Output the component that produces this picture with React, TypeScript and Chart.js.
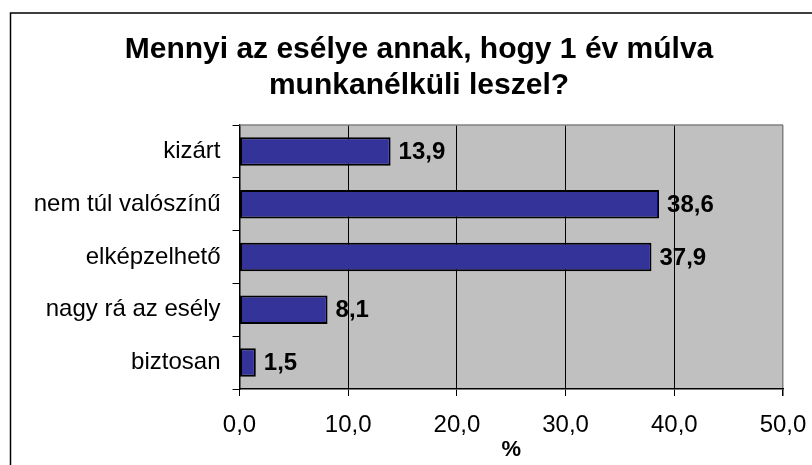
import React, { useEffect, useRef } from "react";
import { Chart, registerables } from "chart.js";

Chart.register(...registerables);

const titleLines = ["Mennyi az esélye annak, hogy 1 év múlva", "munkanélküli leszel?"];
const categories = ["kizárt", "nem túl valószínű", "elképzelhető", "nagy rá az esély", "biztosan"];
const values = [13.9, 38.6, 37.9, 8.1, 1.5];
const xTickLabels = ["0,0", "10,0", "20,0", "30,0", "40,0", "50,0"];
const xAxisTitle = "%";

const FONT = "'Liberation Sans', Arial, Helvetica, sans-serif";

const fmt = (v: number) => v.toFixed(1).replace(".", ",");

const decorPlugin = {
  id: "decor",
  afterLayout(chart: any) {
    const tb = chart.titleBlock;
    if (tb) {
      tb.left = 26;
      tb.right = 812;
    }
  },
  beforeDraw(chart: any) {
    const { ctx, chartArea: a } = chart;
    ctx.save();
    ctx.fillStyle = "#C0C0C0";
    ctx.fillRect(a.left, a.top, a.right - a.left, a.bottom - a.top);
    ctx.restore();
  },
  afterDraw(chart: any) {
    const { ctx, chartArea: a } = chart;
    ctx.save();
    ctx.strokeStyle = "#808080";
    ctx.lineWidth = 1.5;
    ctx.beginPath();
    ctx.moveTo(a.left, a.top);
    ctx.lineTo(a.right, a.top);
    ctx.stroke();
    ctx.strokeStyle = "#000";
    ctx.lineWidth = 1.5;
    ctx.beginPath();
    ctx.moveTo(10.5, chart.height + 5);
    ctx.lineTo(10.5, 13);
    ctx.lineTo(chart.width + 5, 13);
    ctx.stroke();
    ctx.restore();
  },
};

const labelPlugin = {
  id: "valueLabels",
  afterDatasetsDraw(chart: any) {
    const { ctx } = chart;
    const meta = chart.getDatasetMeta(0);
    ctx.save();
    ctx.font = `bold 24px ${FONT}`;
    ctx.fillStyle = "#000";
    ctx.textAlign = "left";
    ctx.textBaseline = "middle";
    meta.data.forEach((el: any, i: number) => {
      ctx.fillText(fmt(values[i]), el.x + 8, el.y + 1);
    });
    ctx.restore();
  },
};

export default function App() {
  const ref = useRef<HTMLCanvasElement>(null);
  useEffect(() => {
    if (!ref.current) return;
    const chart = new Chart(ref.current, {
      type: "bar",
      data: {
        labels: categories,
        datasets: [
          {
            data: values,
            backgroundColor: "#333399",
            borderColor: "#000",
            borderWidth: 2,
            borderSkipped: false,
            categoryPercentage: 1,
            barPercentage: 0.54,
          },
        ],
      },
      options: {
        animation: false,
        responsive: false,
        indexAxis: "y",
        layout: { padding: { left: 10, right: 29, top: 0, bottom: 0 } },
        plugins: {
          legend: { display: false },
          tooltip: { enabled: false },
          title: {
            display: true,
            text: titleLines,
            color: "#000",
            font: { family: FONT, size: 30, weight: "bold", lineHeight: 1.2 },
            padding: { top: 32, bottom: 21 },
          },
        },
        scales: {
          x: {
            min: 0,
            max: 50,
            ticks: {
              stepSize: 10,
              autoSkip: false,
              maxRotation: 0,
              color: "#000",
              padding: 15,
              font: { family: FONT, size: 24 },
              callback: (_v: any, i: number) => xTickLabels[i],
            },
            grid: {
              color: (c: any) => (c.tick && c.tick.value === 50 ? "#808080" : "#000"),
              lineWidth: (c: any) => (c.tick && c.tick.value === 50 ? 1.5 : 1),
              tickLength: 7,
              tickColor: "#000",
              drawOnChartArea: true,
            },
            border: { color: "#000", width: 1.5 },
            title: {
              display: true,
              text: xAxisTitle,
              color: "#000",
              font: { family: FONT, size: 22, weight: "bold", lineHeight: 1.2 },
              padding: { top: 0, bottom: 2 },
            },
            afterFit: (s: any) => {
              s.height = 76;
              s.paddingLeft = 0;
              s.paddingRight = 0;
            },
          },
          y: {
            type: "category",
            offset: true,
            ticks: {
              color: "#000",
              padding: 12,
              font: { family: FONT, size: 24 },
            },
            grid: {
              offset: true,
              drawOnChartArea: false,
              tickLength: 7,
              tickColor: "#000",
            },
            border: { color: "#000", width: 1.5 },
            afterFit: (s: any) => {
              s.width = 229.5;
            },
          },
        },
      },
      plugins: [decorPlugin, labelPlugin],
    } as any);
    return () => chart.destroy();
  }, []);
  return (
    <div style={{ position: "absolute", left: 0, top: 0, width: 812, height: 465, background: "#fff" }}>
      <canvas ref={ref} width={812} height={465} style={{ display: "block" }} />
    </div>
  );
}
